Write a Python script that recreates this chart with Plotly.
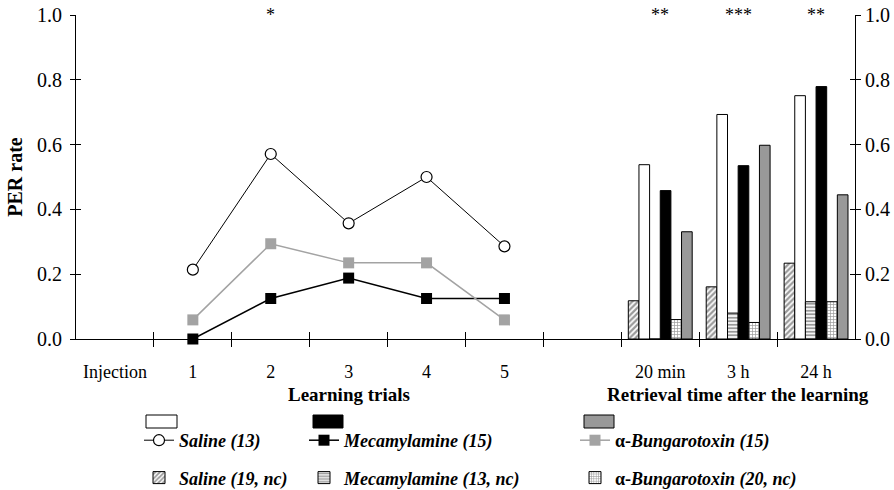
import plotly.graph_objects as go

# ---------------- data ----------------
categories = ["Injection", "1", "2", "3", "4", "5", "", "20 min", "3 h", "24 h"]
trials = ["1", "2", "3", "4", "5"]
retrieval = ["20 min", "3 h", "24 h"]

saline_trials = [0.214, 0.571, 0.357, 0.500, 0.286]
meca_trials = [0.0, 0.125, 0.188, 0.125, 0.125]
bunga_trials = [0.059, 0.294, 0.235, 0.235, 0.059]

saline_nc_ret = [0.118, 0.161, 0.234]
saline_ret = [0.538, 0.693, 0.751]
meca_nc_ret = [0.0, 0.080, 0.115]
meca_ret = [0.458, 0.535, 0.779]
bunga_nc_ret = [0.060, 0.051, 0.115]
bunga_ret = [0.331, 0.598, 0.445]

y_ticks = [0.0, 0.2, 0.4, 0.6, 0.8, 1.0]
sig_cats = ["2", "20 min", "3 h", "24 h"]
sig_text = ["*", "**", "***", "**"]

# ---------------- helpers ----------------
FONT = "Liberation Serif, Times New Roman, serif"
pos = {c: i + 0.5 for i, c in enumerate(categories)}
boundaries = list(range(1, len(categories)))
W, H = 894, 490
ML, MR, MT, MB = 76, 39, 15, 151
PW, PH = W - ML - MR, H - MT - MB


def px_x(px):
    return (px - ML) / PW


def px_y(py):
    return (H - MB - py) / PH


GRAY_BAR = "#999999"
GRAY_LINE = "#a3a3a3"

fig = go.Figure()

# bars (retrieval)
bar_specs = [
    ("<b><i>Saline (19, nc)</i></b>", saline_nc_ret, "white", dict(shape="/", fgcolor="#333", bgcolor="white", size=4, solidity=0.55), "legend"),
    ("Saline (13)", saline_ret, "white", None, None),
    ("<b><i>Mecamylamine (13, nc)</i></b>", meca_nc_ret, "white", dict(shape="-", fgcolor="#333", bgcolor="white", size=3.5, solidity=0.55), "legend2"),
    ("Mecamylamine (15)", meca_ret, "black", None, None),
    ("<b>α-<i>Bungarotoxin (20, nc)</i></b>", bunga_nc_ret, "white", dict(shape="+", fgcolor="#333", bgcolor="white", size=3, solidity=0.4), "legend3"),
    ("α-Bungarotoxin (15)", bunga_ret, GRAY_BAR, None, None),
]
for name, vals, color, pattern, leg in bar_specs:
    marker = dict(color=color, line=dict(color="black", width=1))
    if pattern:
        marker["pattern"] = pattern
    kw = dict(showlegend=False)
    if leg:
        kw = dict(showlegend=True, legend=leg, legendgroup=name, legendrank=2)
    fig.add_trace(go.Bar(x=[pos[c] for c in retrieval], y=vals, name=name,
                         marker=marker, hoverinfo="skip", **kw))

# lines (learning trials)
line_specs = [
    ("<b><i>Saline (13)</i></b>", saline_trials, "black", 1, dict(symbol="circle", color="white", size=11, line=dict(color="black", width=1.2)), "legend"),
    ("<b><i>Mecamylamine (15)</i></b>", meca_trials, "black", 1.5, dict(symbol="square", color="black", size=11, line=dict(color="black", width=0)), "legend2"),
    ("<b>α-<i>Bungarotoxin (15)</i></b>", bunga_trials, GRAY_LINE, 1.5, dict(symbol="square", color=GRAY_LINE, size=11, line=dict(width=0)), "legend3"),
]
for name, vals, color, lw, marker, leg in line_specs:
    fig.add_trace(go.Scatter(x=[pos[c] for c in trials], y=vals, name=name, mode="lines+markers",
                             line=dict(color=color, width=lw), marker=marker, cliponaxis=False,
                             legend=leg, legendgroup=name, legendrank=1, hoverinfo="skip"))

# dummy traces to activate tick-only overlay axes
for xa, ya in [("x2", "y"), ("x", "y2"), ("x", "y3"), ("x", "y4")]:
    fig.add_trace(go.Scatter(x=[None], y=[None], xaxis=xa, yaxis=ya, showlegend=False, hoverinfo="skip"))

# significance stars
for c, t in zip(sig_cats, sig_text):
    fig.add_annotation(x=pos[c], y=1.0, xref="x", yref="y", text=t, showarrow=False,
                       yanchor="middle", font=dict(family=FONT, size=18, color="black"))

# axis titles
fig.add_annotation(x=pos["3"], y=px_y(394), xref="x", yref="paper", text="<b>Learning trials</b>",
                   showarrow=False, yanchor="middle", font=dict(family=FONT, size=19, color="black"))
fig.add_annotation(x=pos["3 h"], y=px_y(394), xref="x", yref="paper",
                   text="<b>Retrieval time after the learning</b>", yanchor="middle",
                   showarrow=False, font=dict(family=FONT, size=19, color="black"))

# legend boxes (row 1)
for x0, x1, fill in [(146, 177, "white"), (313, 343, "black"), (584, 614, GRAY_BAR)]:
    fig.add_shape(type="rect", xref="paper", yref="paper", x0=px_x(x0), x1=px_x(x1),
                  y0=px_y(428), y1=px_y(415), fillcolor=fill, line=dict(color="black", width=1))

tickfont_x = dict(family=FONT, size=18, color="black")
tickfont_y = dict(family=FONT, size=20, color="black")
ytext = [f"{v:.1f}" for v in y_ticks]

legend_common = dict(xanchor="left", yanchor="top", orientation="v", bgcolor="rgba(0,0,0,0)",
                     font=dict(family=FONT, size=18, color="black"), tracegroupgap=11,
                     traceorder="grouped")

fig.update_layout(
    width=W, height=H,
    margin=dict(l=ML, r=MR, t=MT, b=MB, autoexpand=False),
    paper_bgcolor="white", plot_bgcolor="white",
    barmode="group", bargap=0.18, bargroupgap=0,
    xaxis=dict(range=[0, len(categories)], tickmode="array", tickvals=[pos[c] for c in categories],
               ticktext=categories, ticks="outside", ticklen=16, tickcolor="rgba(0,0,0,0)",
               showline=True, linecolor="black", linewidth=1, showgrid=False, zeroline=False,
               tickfont=tickfont_x, automargin=False,
               minor=dict(tickmode="array", tickvals=boundaries, ticks="outside", ticklen=7,
                          tickcolor="black", tickwidth=1, showgrid=False)),
    xaxis2=dict(range=[0, len(categories)], overlaying="x", anchor="y", side="bottom",
                tickmode="array", tickvals=boundaries, ticks="inside", ticklen=7, tickcolor="black",
                showticklabels=False, showline=False, showgrid=False, zeroline=False),
    yaxis=dict(range=[0, 1], tickmode="array", tickvals=y_ticks, ticktext=ytext, ticks="outside",
               ticklen=5, tickcolor="black", showline=True, linecolor="black", linewidth=1,
               showgrid=False, zeroline=False, tickfont=tickfont_y, ticklabelstandoff=4,
               automargin=False,
               title=dict(text="<b>PER rate</b>", font=dict(family=FONT, size=20, color="black"), standoff=9)),
    yaxis2=dict(range=[0, 1], overlaying="y", side="left", anchor="x", tickmode="array", tickvals=y_ticks,
                ticks="inside", ticklen=5, tickcolor="black", showticklabels=False, showline=False,
                showgrid=False, zeroline=False),
    yaxis3=dict(range=[0, 1], overlaying="y", side="right", anchor="x", tickmode="array", tickvals=y_ticks,
                ticktext=ytext, ticks="outside", ticklen=5, tickcolor="black", showline=True,
                linecolor="black", linewidth=1, showgrid=False, zeroline=False, tickfont=tickfont_y,
                automargin=False),
    yaxis4=dict(range=[0, 1], overlaying="y", side="right", anchor="x", tickmode="array", tickvals=y_ticks,
                ticks="inside", ticklen=5, tickcolor="black", showticklabels=False, showline=False,
                showgrid=False, zeroline=False),
    legend=dict(x=px_x(139), y=px_y(422), **legend_common),
    legend2=dict(x=px_x(304), y=px_y(422), **legend_common),
    legend3=dict(x=px_x(575), y=px_y(422), **legend_common),
    showlegend=True,
)

fig.write_html("out.html", config={"displayModeBar": False},
               post_script="document.body.style.margin='0px';")
